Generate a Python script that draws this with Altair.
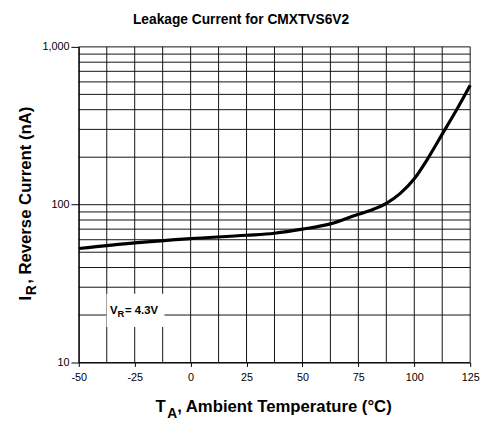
import altair as alt
import pandas as pd

# Curve data
temps = [-50, -25, 0, 25, 37.5, 50, 62.5, 75, 81.25, 87.5, 93.75, 100, 106.25, 112.5, 118.75, 125]
current = [52.8, 57.3, 61, 64, 66, 70, 75.6, 87, 93, 102, 118, 146, 198, 280, 395, 571]

# Grid positions
grid_x = [-50, -37.5, -25, -12.5, 0, 12.5, 25, 37.5, 50, 62.5, 75, 87.5, 100, 112.5, 125]
grid_y = [10, 20, 30, 40, 50, 60, 70, 80, 90, 100, 200, 300, 400, 500, 600, 700, 800, 900, 1000]
x_ticks = [-50, -25, 0, 25, 50, 75, 100, 125]
y_ticks = [10, 100, 1000]

# Annotation box (data units)
box_x = [-37.6]
box_x2 = [-11.7]
box_y = [16.8]
box_y2 = [27.3]

FONT = "Liberation Sans"

xscale = alt.Scale(domain=[-50, 125], nice=False)
yscale = alt.Scale(type="log", domain=[10, 1000], nice=False)

xaxis = alt.Axis(
    values=x_ticks, title=None, grid=False, tickSize=4, labelFontSize=11,
    labelFont=FONT, labelColor="black", tickColor="black", domainColor="black",
    labelPadding=5, labelFlush=False, zindex=2,
    labelExpr="datum.value < 0 ? '-' + abs(datum.value) : '' + datum.value")
yaxis = alt.Axis(
    values=y_ticks, format=",", title=None, grid=False, tickSize=8, labelFontSize=11,
    labelFont=FONT, labelColor="black", tickColor="black", domainColor="black",
    labelPadding=2, zindex=2)

curve_df = pd.DataFrame({"T": temps, "I": current})

vgrid = alt.Chart(pd.DataFrame({"x": grid_x})).mark_rule(color="#111", strokeWidth=1).encode(
    x=alt.X("x:Q", scale=xscale, axis=xaxis)
)
hgrid = alt.Chart(pd.DataFrame({"y": grid_y})).mark_rule(color="#111", strokeWidth=1).encode(
    y=alt.Y("y:Q", scale=yscale, axis=yaxis)
)

box = alt.Chart(pd.DataFrame({"x": box_x, "x2": box_x2, "y": box_y, "y2": box_y2})).mark_rect(
    color="white"
).encode(
    x=alt.X("x:Q", scale=xscale, axis=xaxis), x2="x2:Q",
    y=alt.Y("y:Q", scale=yscale, axis=yaxis), y2="y2:Q",
)

curve = alt.Chart(curve_df).mark_line(color="black", strokeWidth=3.2, interpolate="monotone").encode(
    x=alt.X("T:Q", scale=xscale, axis=xaxis),
    y=alt.Y("I:Q", scale=yscale, axis=yaxis),
)


def txt(s, x, y, size, bold=True, angle=0, align="left"):
    return alt.Chart(pd.DataFrame({"t": [s]})).mark_text(
        font=FONT, fontSize=size, fontWeight="bold" if bold else "normal",
        align=align, baseline="alphabetic", angle=angle, color="black"
    ).encode(text="t:N", x=alt.value(x), y=alt.value(y))


texts = [
    txt("Leakage Current for CMXTVS6V2", 165, -23, 14, align="center"),
    # x title
    txt("T", 78, 371, 17),
    txt("A", 90, 377, 14),
    txt(", Ambient Temperature (°C)", 100, 371, 17),
    # y title (rotated)
    txt("I", -48.5, 258, 17, angle=270),
    txt("R", -44, 252.5, 14, angle=270),
    txt(", Reverse Current (nA)", -48.5, 241, 17, angle=270),
    # V_R annotation
    txt("V", 31.7, 271.7, 11.5),
    txt("R", 39.3, 275, 9.5),
    txt("= 4.3V", 47, 271.7, 11.5),
]

chart = alt.layer(vgrid, hgrid, box, curve, *texts).properties(
    width=398, height=321,
    autosize=alt.AutoSizeParams(type="none"),
    padding={"left": 72, "top": 36, "right": 11, "bottom": 61},
    background="white",
).configure_view(stroke=None)

chart.save("out.html", embed_options={"renderer": "svg", "actions": False})
